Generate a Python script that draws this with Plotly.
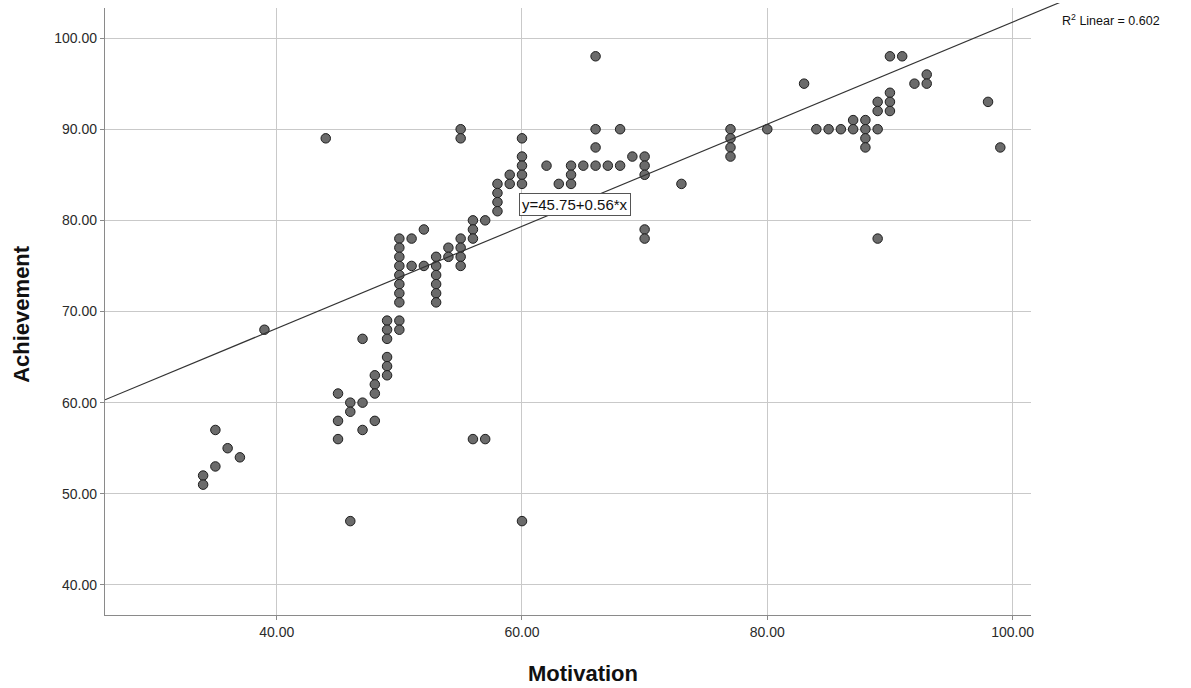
import plotly.graph_objects as go

# ---- data (Motivation, Achievement) ----
motivation = [34, 34, 35, 35, 36, 37, 39, 44,
              45, 45, 45, 46, 46, 46, 47, 47, 47, 48, 48, 48, 48,
              49, 49, 49, 49, 49, 49,
              50, 50, 50, 50, 50, 50, 50, 50, 50, 50,
              51, 51, 52, 52, 53, 53, 53, 53, 53, 53, 54, 54,
              55, 55, 55, 55, 55, 55, 56, 56, 56, 56, 57, 57,
              58, 58, 58, 58, 59, 59, 60, 60, 60, 60, 60, 60,
              62, 63, 64, 64, 64, 65, 66, 66, 66, 66, 67, 68, 68, 69,
              70, 70, 70, 70, 70, 73, 77, 77, 77, 77, 80, 83, 84, 85, 86,
              87, 87, 88, 88, 88, 88, 89, 89, 89, 89, 90, 90, 90, 90,
              91, 92, 93, 93, 98, 99]
achievement = [52, 51, 57, 53, 55, 54, 68, 89,
               61, 58, 56, 60, 59, 47, 67, 60, 57, 63, 62, 61, 58,
               69, 68, 67, 65, 64, 63,
               78, 77, 76, 75, 74, 73, 72, 71, 69, 68,
               78, 75, 79, 75, 76, 75, 74, 73, 72, 71, 77, 76,
               90, 89, 78, 77, 76, 75, 80, 79, 78, 56, 80, 56,
               84, 83, 82, 81, 85, 84, 89, 87, 86, 85, 84, 47,
               86, 84, 86, 85, 84, 86, 98, 90, 88, 86, 86, 90, 86, 87,
               87, 86, 85, 79, 78, 84, 90, 89, 88, 87, 90, 95, 90, 90, 90,
               91, 90, 91, 90, 89, 88, 93, 92, 90, 78, 98, 94, 93, 92,
               98, 95, 96, 95, 93, 88]

intercept = 45.75
slope = 0.56
r2 = 0.602

x_tick_vals = [40, 60, 80, 100]
y_tick_vals = [40, 50, 60, 70, 80, 90, 100]

# ---- layout geometry ----
W, H = 1191, 688
x_min, x_max = 26.0, 101.5
y_min, y_max = 36.7, 103.3
main_dom_end = 0.9696          # gridded area ends before the fit line does
main_dom_top = 607 / 612       # fit line may run slightly above the frame
x2_max = x_min + (x_max - x_min) / main_dom_end
y2_max = y_min + (y_max - y_min) / main_dom_top

grid = "#c9c9c9"
axis_line = "#8a8a8a"
font_fam = "Liberation Sans, Arial, sans-serif"
tick_font = dict(family=font_fam, size=14, color="#2a2a2a")

fig = go.Figure()

fig.add_trace(go.Scatter(
    x=motivation, y=achievement, mode="markers",
    marker=dict(size=9.5, color="#6b6b6b", line=dict(color="#1e1e1e", width=1)),
    xaxis="x", yaxis="y", showlegend=False, hoverinfo="x+y",
))

fit_x = [x_min, x2_max]
fit_y = [intercept + slope * v for v in fit_x]
fig.add_trace(go.Scatter(
    x=fit_x, y=fit_y, mode="lines",
    line=dict(color="#333333", width=1.2),
    xaxis="x2", yaxis="y2", showlegend=False, hoverinfo="skip",
))

fig.update_layout(
    width=W, height=H,
    margin=dict(l=105, r=131, t=3, b=73),
    paper_bgcolor="white", plot_bgcolor="rgba(0,0,0,0)",
    xaxis=dict(domain=[0, main_dom_end], range=[x_min, x_max], anchor="y",
               tickvals=x_tick_vals, tickformat=".2f",
               showgrid=True, gridcolor=grid, gridwidth=1.3, zeroline=False,
               showline=True, linecolor=axis_line, linewidth=1.3,
               ticks="outside", ticklen=4, tickcolor=axis_line,
               tickfont=tick_font),
    yaxis=dict(domain=[0, main_dom_top], range=[y_min, y_max], anchor="x",
               tickvals=y_tick_vals, tickformat=".2f",
               showgrid=True, gridcolor=grid, gridwidth=1.3, zeroline=False,
               showline=True, linecolor=axis_line, linewidth=1.3,
               ticks="outside", ticklen=4, tickcolor=axis_line,
               tickfont=tick_font),
    xaxis2=dict(domain=[0, 1], range=[x_min, x2_max], anchor="y2", visible=False),
    yaxis2=dict(domain=[0, 1], range=[y_min, y2_max], anchor="x2", visible=False),
    annotations=[
        dict(text=f"y={intercept:.2f}+{slope:.2f}*x", x=64.3, y=81.7,
             xref="x", yref="y", showarrow=False, xanchor="center", yanchor="middle",
             font=dict(family=font_fam, size=15, color="#111111"),
             bgcolor="white", bordercolor="#555555", borderwidth=1, borderpad=2),
        dict(text=f"R<sup>2</sup> Linear = {r2:.3f}", x=1.0, y=0.973,
             xref="paper", yref="paper", showarrow=False, xanchor="left", yanchor="middle",
             font=dict(family=font_fam, size=12.5, color="#111111")),
        dict(text="<b>Motivation</b>", x=0.5, y=-0.096,
             xref="paper", yref="paper", showarrow=False, xanchor="center", yanchor="middle",
             font=dict(family=font_fam, size=22, color="#111111")),
        dict(text="<b>Achievement</b>", x=-0.087, y=0.492, textangle=-90,
             xref="paper", yref="paper", showarrow=False, xanchor="center", yanchor="middle",
             font=dict(family=font_fam, size=22, color="#111111")),
    ],
)

fig.write_html("out.html", config={"displayModeBar": False},
               post_script="document.body.style.margin = '0';")
